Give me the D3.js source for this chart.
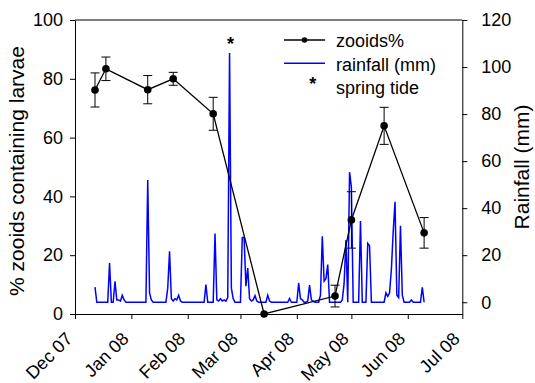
<!DOCTYPE html>
<html>
<head>
<meta charset="utf-8">
<script src="https://cdn.jsdelivr.net/npm/d3@7"></script>
<style>
  html, body { margin: 0; padding: 0; background: #fff; }
  svg { display: block; font-family: "Liberation Sans", Arial, sans-serif; }
</style>
</head>
<body>
<svg id="chart" width="535" height="383"></svg>
<script>
// month ticks on the x axis
const monthLabels = ['Dec 07', 'Jan 08', 'Feb 08', 'Mar 08', 'Apr 08', 'May 08', 'Jun 08', 'Jul 08'];
const leftTicks = [0, 20, 40, 60, 80, 100];
const rightTicks = [0, 20, 40, 60, 80, 100, 120];

// % zooids containing larvae (mean +/- error)
const zooidDates = ['2007-12-12', '2007-12-18', '2008-01-10', '2008-01-24', '2008-02-15',
  '2008-03-14', '2008-04-22', '2008-05-01', '2008-05-19', '2008-06-10'];
const zooidPct = [76.2, 83.4, 76.3, 80.0, 68.1, 0, 6.1, 32.0, 64.0, 27.6];
const zooidErr = [5.8, 4.0, 4.8, 2.2, 5.6, 0, 3.7, 9.6, 6.3, 5.2];

// daily rainfall (mm), first value is 12 Dec 2007
const rainStart = '2007-12-12';
const rainfall = [
  6.4, 0, 0, 0, 0, 0, 0, 0, 16.7, 0,
  0, 8.9, 1, 1, 0.5, 3, 1, 0, 0, 0,
  0, 0, 0, 0, 0, 0, 0, 0, 0, 52,
  4, 1, 0, 0, 0, 0, 0, 0, 0, 0,
  6, 21.7, 1.5, 0.5, 1.5, 1, 3, 0.5, 0, 0,
  0, 0, 0, 0, 0, 0, 0, 0, 0, 0,
  0, 7.5, 0, 0, 0, 0, 29.2, 1, 0.5, 1.5,
  0.5, 1, 0.5, 2, 106, 6, 1.5, 0, 0, 0,
  0, 27.5, 27.5, 6.8, 14.5, 1.5, 0.5, 1, 2.8, 0.5,
  0, 0, 0, 0, 0, 3, 0.5, 0, 0, 0,
  0, 0, 0, 0, 0, 0, 0, 1.6, 0, 0,
  0, 0, 8.2, 1.5, 1, 0, 0, 0.5, 7.3, 1,
  0.5, 0, 0, 0, 3, 28, 9, 10, 16, 0,
  0, 0, 0, 0, 0, 0, 1, 8, 26.4, 0,
  55.3, 49, 0, 0, 0, 0, 34.5, 0, 0, 0,
  25, 24, 0, 0, 0, 0, 0, 0, 0, 0,
  4, 2.5, 4, 14, 30, 42.7, 3, 2, 32.5, 3,
  0, 0, 0, 0, 1, 0, 0, 0, 0, 0,
  6.3, 0
];

// spring tide dates (marked with *)
const springTides = ['2008-02-24'];
const springTideLevel = 93; // height on the % axis

const parse = d3.timeParse('%Y-%m-%d');
const zooids = zooidDates.map((d, i) => ({ date: parse(d), v: zooidPct[i], e: zooidErr[i] }));
const rain0 = parse(rainStart);
const rain = rainfall.map((v, i) => ({ date: d3.timeDay.offset(rain0, i), v }));

const svg = d3.select('#chart');
const plotL = 75, plotR = 462.3, plotT = 20, plotB = 314;

const x = d3.scaleTime()
  .domain([new Date(2007, 11, 1), new Date(2008, 6, 1)])
  .range([plotL, plotR]);
const yL = d3.scaleLinear().domain([0, 100]).range([plotB, plotT]);
const yR = d3.scaleLinear().domain([-5, 120]).range([plotB, plotT]);

const fs = '18px';

// frame top line
svg.append('line')
  .attr('x1', plotL).attr('x2', plotR).attr('y1', plotT).attr('y2', plotT)
  .attr('stroke', '#000');

// axes
const gl = svg.append('g')
  .attr('transform', `translate(${plotL},0)`)
  .call(d3.axisLeft(yL).tickValues(leftTicks).tickSize(5).tickPadding(7).tickSizeOuter(0));
const gr = svg.append('g')
  .attr('transform', `translate(${plotR},0)`)
  .call(d3.axisRight(yR).tickValues(rightTicks).tickSize(5).tickPadding(14).tickSizeOuter(0));
const monthDates = d3.timeMonth.range(new Date(2007, 11, 1), new Date(2008, 6, 2));
const gb = svg.append('g')
  .attr('transform', `translate(0,${plotB})`)
  .call(d3.axisBottom(x).tickValues(monthDates).tickFormat((d, i) => monthLabels[i])
    .tickSize(5).tickSizeOuter(0));
gb.selectAll('text')
  .attr('x', 0).attr('y', 0).attr('dy', 0)
  .attr('text-anchor', 'end')
  .attr('transform', 'translate(-2,26) rotate(-45)');

[gl, gr, gb].forEach((g) => {
  g.selectAll('text').style('font-size', fs).attr('fill', '#000');
  g.selectAll('path, line').attr('stroke', '#000');
});

// axis titles
svg.append('text')
  .attr('transform', `translate(24,${(plotT + plotB) / 2 + 4}) rotate(-90)`)
  .attr('text-anchor', 'middle')
  .style('font-size', '21px')
  .text('% zooids containing larvae');
svg.append('text')
  .attr('transform', `translate(529,${(plotT + plotB) / 2}) rotate(-90)`)
  .attr('text-anchor', 'middle')
  .style('font-size', '21px')
  .text('Rainfall (mm)');

// rainfall line
svg.append('path')
  .datum(rain)
  .attr('fill', 'none')
  .attr('stroke', '#0000ff')
  .attr('stroke-width', 1.5)
  .attr('d', d3.line().x((d) => x(d.date)).y((d) => yR(d.v)));

// zooids line + error bars + points
svg.append('path')
  .datum(zooids)
  .attr('fill', 'none')
  .attr('stroke', '#000')
  .attr('stroke-width', 1.3)
  .attr('d', d3.line().x((d) => x(d.date)).y((d) => yL(d.v)));

const eb = svg.append('g').attr('stroke', '#000').attr('stroke-width', 1)
  .selectAll('g')
  .data(zooids.filter((d) => d.e > 0))
  .join('g');
eb.append('line')
  .attr('x1', (d) => x(d.date)).attr('x2', (d) => x(d.date))
  .attr('y1', (d) => yL(d.v - d.e)).attr('y2', (d) => yL(d.v + d.e));
eb.append('line')
  .attr('x1', (d) => x(d.date) - 4.5).attr('x2', (d) => x(d.date) + 4.5)
  .attr('y1', (d) => yL(d.v + d.e)).attr('y2', (d) => yL(d.v + d.e));
eb.append('line')
  .attr('x1', (d) => x(d.date) - 4.5).attr('x2', (d) => x(d.date) + 4.5)
  .attr('y1', (d) => yL(d.v - d.e)).attr('y2', (d) => yL(d.v - d.e));

svg.append('g')
  .selectAll('circle')
  .data(zooids)
  .join('circle')
  .attr('cx', (d) => x(d.date))
  .attr('cy', (d) => yL(d.v))
  .attr('r', 3.8)
  .attr('fill', '#000');

// spring tide markers
svg.append('g')
  .selectAll('text')
  .data(springTides)
  .join('text')
  .attr('x', (d) => x(parse(d)) + 1)
  .attr('y', yL(springTideLevel))
  .attr('dy', '0.5em')
  .attr('text-anchor', 'middle')
  .style('font-size', fs)
  .style('font-weight', 'bold')
  .text('*');

// legend
const lg = svg.append('g');
lg.append('line').attr('x1', 284).attr('x2', 325).attr('y1', 40).attr('y2', 40)
  .attr('stroke', '#000').attr('stroke-width', 1.3);
lg.append('circle').attr('cx', 304.5).attr('cy', 40).attr('r', 2.8).attr('fill', '#000');
lg.append('text').attr('x', 336).attr('y', 46.5).style('font-size', fs).text('zooids%');
lg.append('line').attr('x1', 284).attr('x2', 325).attr('y1', 63.3).attr('y2', 63.3)
  .attr('stroke', '#0000ff').attr('stroke-width', 1.5);
lg.append('text').attr('x', 336).attr('y', 70.5).style('font-size', fs).text('rainfall (mm)');
lg.append('text').attr('x', 312.7).attr('y', 80).attr('dy', '0.58em')
  .attr('text-anchor', 'middle').style('font-size', fs).style('font-weight', 'bold').text('*');
lg.append('text').attr('x', 336).attr('y', 94.3).style('font-size', fs).text('spring tide');
</script>
</body>
</html>
